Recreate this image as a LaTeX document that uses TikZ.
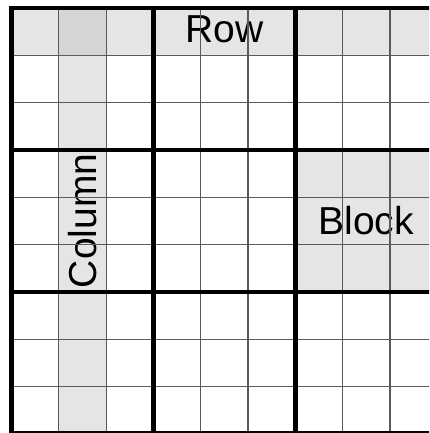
\documentclass[tikz,border=0pt]{standalone}
\usepackage{fontspec}
\setmainfont{Liberation Sans}
\definecolor{lightfill}{HTML}{E5E5E5}
\definecolor{darkfill}{HTML}{D5D5D5}
\definecolor{thinline}{HTML}{5A5A5A}
\tikzset{
  thingrid/.style={draw=thinline, line width=1.2pt},
  thickgrid/.style={draw=black, line width=4.5pt},
  label/.style={font=\fontsize{39}{42}\selectfont, inner sep=0pt, anchor=base}
}
\begin{document}
\begin{tikzpicture}[x=1pt,y=-1pt]
\useasboundingbox (0,0) rectangle (429,433);
\clip (0,0) rectangle (429,433);
\def\ox{11.5}
\def\oy{8}
\def\c{47.3}
\fill[white] (0,0) rectangle (429,433);
% shaded row, column, block
\fill[lightfill] (\ox,\oy) rectangle ({\ox+9*\c},{\oy+\c});
\fill[lightfill] ({\ox+\c},\oy) rectangle ({\ox+2*\c},{\oy+9*\c});
\fill[lightfill] ({\ox+6*\c},{\oy+3*\c}) rectangle ({\ox+9*\c},{\oy+6*\c});
\fill[darkfill] ({\ox+\c},\oy) rectangle ({\ox+2*\c},{\oy+\c});
% texts
\node[label] (row) at ({\ox+4.5*\c},43) {Row};
\node[label, rotate=90] (column) at (96,{\oy+4.5*\c}) {Column};
\node[label] (block) at ({\ox+7.5*\c},234.5) {Block};
% thin lines
\foreach \i in {1,2,4,5,7,8} {
  \draw[thingrid] ({\ox+\i*\c},\oy) -- ({\ox+\i*\c},{\oy+9*\c});
  \draw[thingrid] (\ox,{\oy+\i*\c}) -- ({\ox+9*\c},{\oy+\i*\c});
}
% thick lines
\foreach \i in {0,3,6,9} {
  \draw[thickgrid] ({\ox+\i*\c},{\oy-2.25}) -- ({\ox+\i*\c},{\oy+9*\c+2.25});
  \draw[thickgrid] ({\ox-2.25},{\oy+\i*\c}) -- ({\ox+9*\c+2.25},{\oy+\i*\c});
}
\end{tikzpicture}
\end{document}
